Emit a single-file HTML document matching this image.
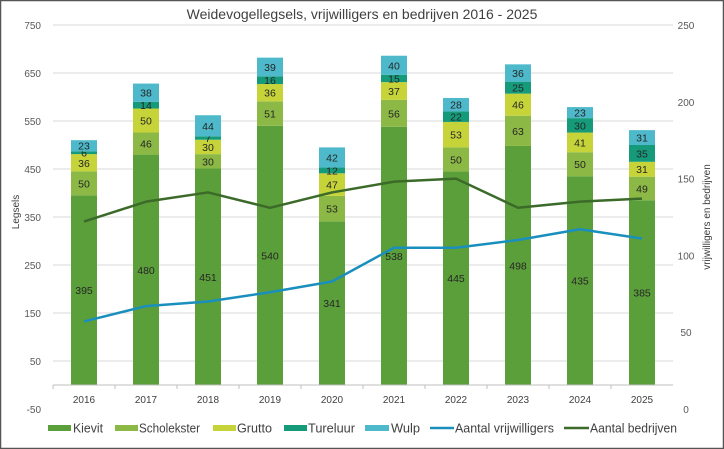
<!DOCTYPE html>
<html><head><meta charset="utf-8">
<style>
html,body{margin:0;padding:0;background:#fff;}
svg{display:block;font-family:"Liberation Sans",sans-serif;}
</style></head>
<body>
<svg id="chart" width="724" height="449" viewBox="0 0 724 449" xmlns="http://www.w3.org/2000/svg">
<rect x="0.5" y="0.5" width="723" height="448" fill="#fff" stroke="#555" stroke-width="1.5"/>
<text x="362" y="19" text-anchor="middle" font-size="14" fill="#404040">Weidevogellegsels, vrijwilligers en bedrijven 2016 - 2025</text>
<text transform="translate(19,212) rotate(-90)" text-anchor="middle" font-size="10" fill="#404040">Legsels</text>
<text transform="translate(710,217) rotate(-90)" text-anchor="middle" font-size="10" fill="#404040">vrijwilligers en bedrijven</text>
<g id="grid"></g><g id="bars"></g><g id="lines"></g><g id="axes"></g>
<g id="legend"></g>
</svg>
<script>
const categories=["2016","2017","2018","2019","2020","2021","2022","2023","2024","2025"];
const kievit=[395,480,451,540,341,538,445,498,435,385];
const scholekster=[50,46,30,51,53,56,50,63,50,49];
const grutto=[36,50,30,36,47,37,53,46,41,31];
const tureluur=[6,14,7,16,12,15,22,25,30,35];
const wulp=[23,38,44,39,42,40,28,36,23,31];
const vrijwilligers=[57,67,70,76,83,105,105,110,117,111];
const bedrijven=[122,135,141,131,141,148,150,131,135,137];
const leftTicks=[-50,50,150,250,350,450,550,650,750];
const rightTicks=[0,50,100,150,200,250];

const NS="http://www.w3.org/2000/svg";
const plotTop=25,plotBottom=409,plotLeft=53,plotRight=673;
const yL=v=>plotTop+(750-v)/800*(plotBottom-plotTop);
const yR=v=>plotBottom-v/250*(plotBottom-plotTop);
const step=(plotRight-plotLeft)/categories.length;
const xC=i=>plotLeft+step*(i+0.5);
function mk(tag,attrs,parent){const e=document.createElementNS(NS,tag);for(const k in attrs)e.setAttribute(k,attrs[k]);parent.appendChild(e);return e;}
const G=id=>document.getElementById(id);

leftTicks.forEach(t=>{
  if(t!==-50){const l=mk('line',{x1:plotLeft,x2:plotRight,y1:yL(t),y2:yL(t),stroke:'#d9d9d9','stroke-width':1},G('grid'));
  
  }
  const tx=mk('text',{x:plotLeft-12,y:yL(t)+4,'text-anchor':'end','font-size':10,fill:'#595959'},G('axes'));
  tx.textContent=t;
  
  
});
rightTicks.forEach(t=>{
  const tx=mk('text',{x:plotRight+13,y:yR(t)+4,'text-anchor':'middle','font-size':10,fill:'#595959'},G('axes'));
  tx.textContent=t;
  
  
});
const ax=mk('line',{x1:plotLeft,x2:plotRight,y1:yL(0),y2:yL(0),stroke:'#bfbfbf','stroke-width':1},G('axes'));


categories.forEach((c,i)=>{
  const tk=mk('line',{x1:plotLeft+step*i,x2:plotLeft+step*i,y1:yL(0),y2:yL(0)+4,stroke:'#bfbfbf'},G('axes'));
  
  
  const tx=mk('text',{x:xC(i),y:403,'text-anchor':'middle','font-size':10,fill:'#404040'},G('axes'));
  tx.textContent=c;
  
  
});

const series=[["kievit",kievit,"#5b9f3a"],["scholekster",scholekster,"#8cb946"],["grutto",grutto,"#c6d43a"],["tureluur",tureluur,"#159b7a"],["wulp",wulp,"#4db9ca"]];
const bw=26;
categories.forEach((c,i)=>{
  let base=0;
  series.forEach(([n,arr,col])=>{
    const v=arr[i];
    const r=mk('rect',{x:xC(i)-bw/2,y:yL(base+v),width:bw,height:yL(base)-yL(base+v),fill:col},G('bars'));
    
    
    const lb=mk('text',{x:xC(i),y:(yL(base)+yL(base+v))/2+4,'text-anchor':'middle','font-size':10.5,fill:'#262626'},G('bars'));
    lb.textContent=v;
    
    
    base+=v;
  });
});

function line(arr,col,name){
  const p=mk('polyline',{points:arr.map((v,i)=>xC(i)+','+yR(v)).join(' '),fill:'none',stroke:col,'stroke-width':2.5,'stroke-linejoin':'round'},G('lines'));
  
  
}
line(vrijwilligers,'#1a8fbd','line-vrijwilligers');
line(bedrijven,'#3b6a29','line-bedrijven');

// [label, colour, markerX, markerW, textX, textW, kind]
const leg=[["Kievit","#5b9f3a",48,23,73,30,"rect"],["Scholekster","#8cb946",115,23,139,61,"rect"],["Grutto","#c6d43a",213,23,237,35,"rect"],["Tureluur","#159b7a",284,23,308,47,"rect"],["Wulp","#4db9ca",365,24,391,29,"rect"],["Aantal vrijwilligers","#1a8fbd",430,24,455,99,"line"],["Aantal bedrijven","#3b6a29",564,25,590,87,"line"]];
leg.forEach(([t,col,mx,mw,tx0,tw,k])=>{
  const g=mk('g',{},G('legend'));
  
  
  if(k==='rect')mk('rect',{x:mx,y:425,width:mw,height:6,fill:col},g);
  else mk('line',{x1:mx,x2:mx+mw,y1:428,y2:428,stroke:col,'stroke-width':2.5},g);
  const tx=mk('text',{x:tx0,y:432.5,'font-size':12.5,fill:'#404040',textLength:tw,lengthAdjust:'spacingAndGlyphs'},g);
  tx.textContent=t;
});
</script>
</body></html>
